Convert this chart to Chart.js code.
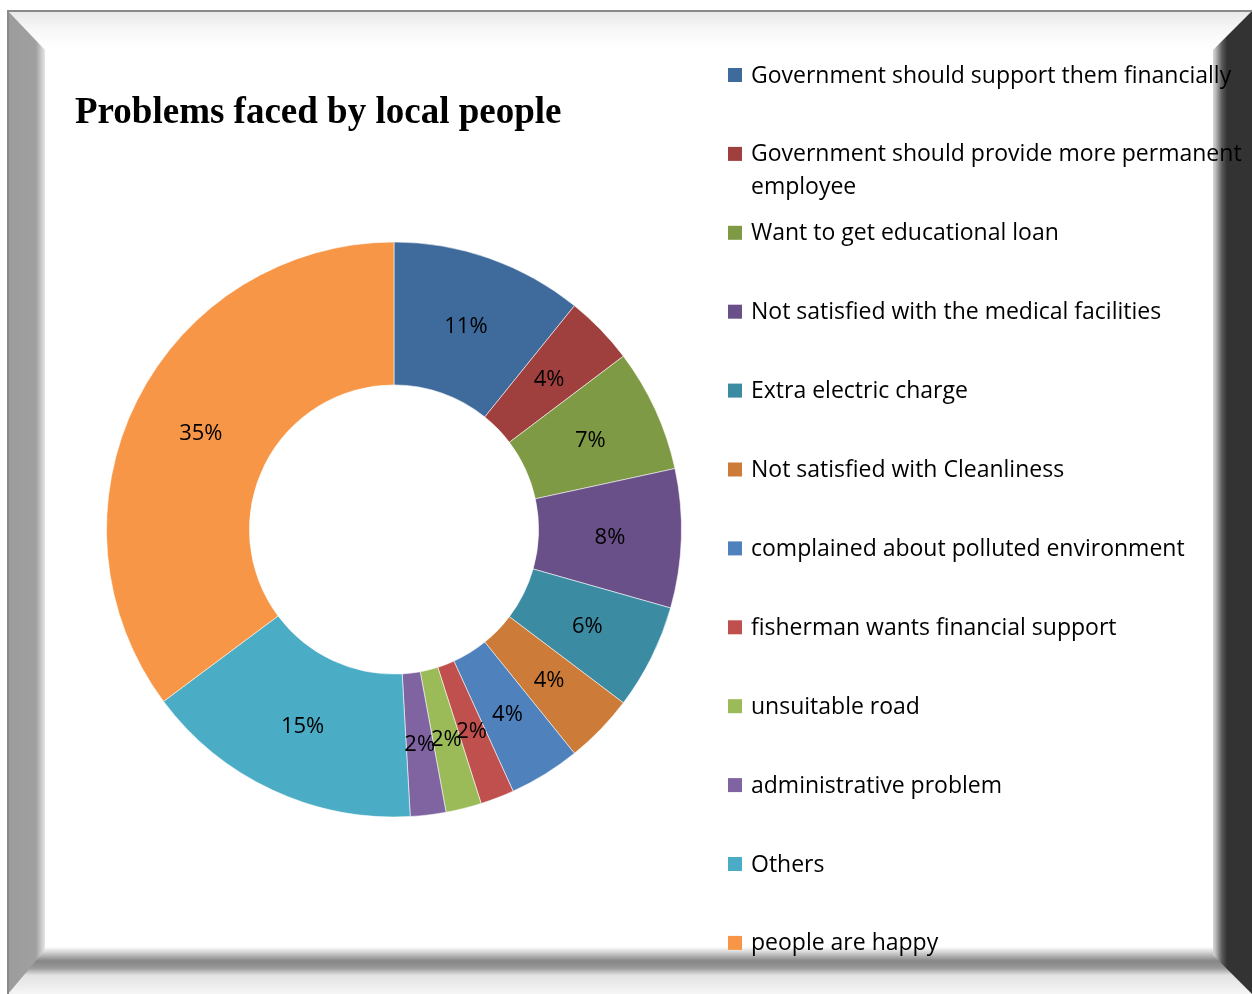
<!DOCTYPE html>
<html>
<head>
<meta charset="utf-8">
<script src="https://cdn.jsdelivr.net/npm/chart.js@4.4.1/dist/chart.umd.min.js"></script>
<style>
  html, body { margin: 0; padding: 0; background: #fff; }
  #wrap { width: 1252px; height: 994px; position: relative; }
</style>
</head>
<body>
<div id="wrap"><canvas id="donut"></canvas></div>
<script>
const chartTitle = 'Problems faced by local people'
const categories = [
  'Government should support them financially',
  'Government should provide more permanent employee',
  'Want to get educational loan',
  'Not satisfied with the medical facilities',
  'Extra electric charge',
  'Not satisfied with Cleanliness',
  'complained about polluted environment',
  'fisherman wants financial support',
  'unsuitable road',
  'administrative problem',
  'Others',
  'people are happy',
]
// slice sizes (percent)
const shares = [10.8, 3.9, 6.9, 7.8, 5.9, 3.9, 4.0, 1.9, 2.0, 2.0, 15.7, 35.2]
// the labels printed on the slices
const shareLabels = ['11%', '4%', '7%', '8%', '6%', '4%', '4%', '2%', '2%', '2%', '15%', '35%']
const colors = [
  '#3f6a9c', '#a0403e', '#7f9a45', '#6a5088', '#3b8ca3', '#cd7b38',
  '#4f81bd', '#c0504d', '#9bbb59', '#8064a2', '#4bacc6', '#f79646',
]

const textFont = '"Open Sans", Lato, sans-serif'

// beveled picture frame behind everything
const framePlugin = {
  id: 'frame',
  beforeDraw(chart) {
    const ctx = chart.ctx
    const W = chart.width, H = chart.height
    const L = 8, T = 11, IL = 45, IT = 50, IR = 1213, IB = 947
    ctx.save()
    ctx.fillStyle = '#fff'
    ctx.fillRect(0, 0, W, H)

    // top bevel
    let g = ctx.createLinearGradient(0, T, 0, IT)
    g.addColorStop(0, '#e8e8e8')
    g.addColorStop(0.5, '#f8f8f8')
    g.addColorStop(1, '#ffffff')
    ctx.fillStyle = g
    ctx.beginPath()
    ctx.moveTo(L, T); ctx.lineTo(W, T); ctx.lineTo(IR, IT); ctx.lineTo(IL, IT)
    ctx.closePath(); ctx.fill()

    // bottom bevel
    g = ctx.createLinearGradient(0, IB, 0, H)
    g.addColorStop(0, '#ffffff')
    g.addColorStop(0.12, '#d0d0d0')
    g.addColorStop(0.3, '#858585')
    g.addColorStop(0.45, '#9a9a9a')
    g.addColorStop(0.6, '#e2e2e2')
    g.addColorStop(1, '#f6f6f6')
    ctx.fillStyle = g
    ctx.beginPath()
    ctx.moveTo(IL, IB); ctx.lineTo(IR, IB); ctx.lineTo(W, H); ctx.lineTo(L, H)
    ctx.closePath(); ctx.fill()

    // left bevel
    g = ctx.createLinearGradient(L, 0, IL + 3, 0)
    g.addColorStop(0, '#9c9c9c')
    g.addColorStop(0.7, '#a0a0a0')
    g.addColorStop(0.88, '#d8d8d8')
    g.addColorStop(1, '#ffffff')
    ctx.fillStyle = g
    ctx.beginPath()
    ctx.moveTo(L, T); ctx.lineTo(IL, IT); ctx.lineTo(IL, IB + 3); ctx.lineTo(L, H)
    ctx.closePath(); ctx.fill()

    // right bevel
    g = ctx.createLinearGradient(IR - 4, 0, W, 0)
    g.addColorStop(0, '#ffffff')
    g.addColorStop(0.15, '#bdbdbd')
    g.addColorStop(0.3, '#5a5a5a')
    g.addColorStop(0.42, '#333333')
    g.addColorStop(1, '#333333')
    ctx.fillStyle = g
    ctx.beginPath()
    ctx.moveTo(W, T); ctx.lineTo(IR, IT); ctx.lineTo(IR, IB + 8); ctx.lineTo(W, H)
    ctx.closePath(); ctx.fill()

    // outer rim line
    ctx.strokeStyle = '#8a8a8a'
    ctx.lineWidth = 2
    ctx.beginPath()
    ctx.moveTo(L, H); ctx.lineTo(L, T); ctx.lineTo(W, T)
    ctx.stroke()
    ctx.restore()
  },
}

function wrapWords(ctx, text, maxW) {
  const words = text.split(' ')
  const lines = []
  let line = ''
  words.forEach(w => {
    const test = line ? line + ' ' + w : w
    if (line && ctx.measureText(test).width > maxW) {
      lines.push(line)
      line = w
    } else {
      line = test
    }
  })
  if (line) lines.push(line)
  return lines
}

// title, slice labels and the legend on the right
const textPlugin = {
  id: 'texts',
  afterDraw(chart) {
    const ctx = chart.ctx
    ctx.save()

    ctx.fillStyle = '#000'
    ctx.font = 'bold 37px "Liberation Serif", "Times New Roman", serif'
    ctx.textAlign = 'left'
    ctx.textBaseline = 'middle'
    ctx.fillText(chartTitle, 75, 113)

    // labels in the middle of each ring piece
    const arcs = chart.getDatasetMeta(0).data
    ctx.font = '22px ' + textFont
    ctx.textAlign = 'center'
    arcs.forEach((arc, i) => {
      const p = arc.tooltipPosition()
      ctx.fillText(shareLabels[i], p.x, p.y + 1)
    })

    // legend
    ctx.font = '23px ' + textFont
    ctx.textAlign = 'left'
    const x0 = 728, y0 = 76, step = 78.9
    categories.forEach((name, i) => {
      const y = y0 + i * step
      ctx.fillStyle = colors[i]
      ctx.fillRect(x0, y - 8, 14, 14)
      ctx.fillStyle = '#000'
      const lines = wrapWords(ctx, name, 540)
      lines.forEach((ln, k) => ctx.fillText(ln, x0 + 23, y + k * 33))
    })
    ctx.restore()
  },
}

const donutCtx = document.getElementById('donut')
window.myDonut = new Chart(donutCtx, {
  type: 'doughnut',
  data: {
    labels: categories,
    datasets: [
      {
        data: shares,
        backgroundColor: colors,
        borderColor: 'rgba(255,255,255,0.55)',
        borderWidth: 1,
        hoverOffset: 0,
      },
    ],
  },
  options: {
    responsive: true,
    maintainAspectRatio: false,
    animation: false,
    cutout: '50.3%',
    layout: {
      padding: { left: 106, right: 570, top: 241, bottom: 176 },
    },
    plugins: {
      legend: { display: false },
      tooltip: { enabled: false },
      title: { display: false },
    },
  },
  plugins: [framePlugin, textPlugin],
})
</script>
</body>
</html>
